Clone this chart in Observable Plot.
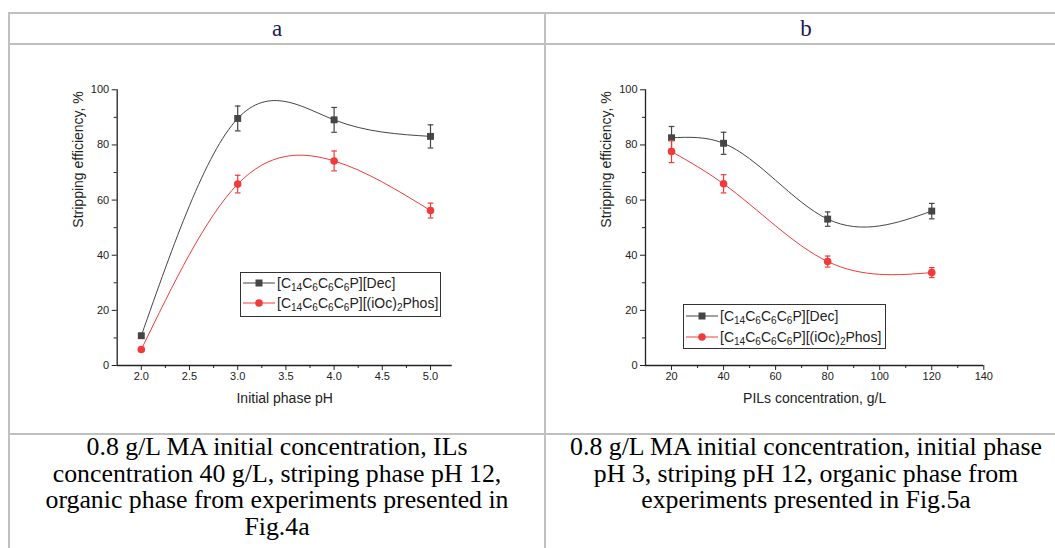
<!DOCTYPE html>
<html><head><meta charset="utf-8">
<script src="https://cdn.jsdelivr.net/npm/d3@7"></script>
<script src="https://cdn.jsdelivr.net/npm/@observablehq/plot@0.6"></script>
<style>
html,body{margin:0;padding:0;background:#fff;}
#page{position:relative;width:1055px;height:548px;overflow:hidden;background:#fff;}
.hl{position:absolute;height:2px;background:#c0c0c0;}
.vl{position:absolute;width:2px;background:#c0c0c0;}
.hdr{position:absolute;top:14px;height:29px;line-height:30px;text-align:center;font-family:"Liberation Serif",serif;font-size:23px;color:#1c1c50;}
.cap{position:absolute;top:434px;text-align:center;font-family:"Liberation Serif",serif;font-size:25.8px;line-height:26.5px;color:#000;white-space:nowrap;}
.chart{position:absolute;}
.legend{position:absolute;border:1px solid #333;background:#fff;font-family:"Liberation Sans",Arial,sans-serif;font-size:14px;color:#222;box-sizing:border-box;}
.legend .row{position:absolute;left:0;height:20px;line-height:20px;white-space:nowrap;}
.legend .row svg{position:absolute;left:2px;top:0;}
.legend .row span{position:absolute;left:36px;top:0;}
.legend sub{font-size:72%;vertical-align:-0.3em;line-height:0;}
</style></head>
<body>
<div id="page"></div>
<script>
// ---------- data ----------
const phA = [2.0, 3.0, 4.0, 5.0];
const decA = [10.8, 89.6, 89.1, 83.1];
const decAErr = [0, 4.5, 4.5, 4.2];
const phosA = [5.8, 65.8, 74.2, 56.2];
const phosAErr = [0, 3.2, 3.6, 2.7];

const concB = [20, 40, 80, 120];
const decB = [82.6, 80.6, 53.1, 56.0];
const decBErr = [4.1, 4.0, 2.6, 2.8];
const phosB = [77.6, 65.9, 37.7, 33.7];
const phosBErr = [4.0, 3.3, 2.0, 1.8];

const yTicks = [0, 20, 40, 60, 80, 100];
const yMinor = [10, 30, 50, 70, 90];
const xTicksA = [2.0, 2.5, 3.0, 3.5, 4.0, 4.5, 5.0];
const xMinorA = [2.25, 2.75, 3.25, 3.75, 4.25, 4.75];
const xTicksB = [20, 40, 60, 80, 100, 120, 140];
const xMinorB = [30, 50, 70, 90, 110, 130];

const seriesNames = [
  "[C<sub>14</sub>C<sub>6</sub>C<sub>6</sub>C<sub>6</sub>P][Dec]",
  "[C<sub>14</sub>C<sub>6</sub>C<sub>6</sub>C<sub>6</sub>P][(iOc)<sub>2</sub>Phos]"
];
const headers = ["a", "b"];
const captionA = [
  "0.8 g/L MA initial concentration, ILs",
  "concentration 40 g/L, striping phase pH 12,",
  "organic phase from experiments presented in",
  "Fig.4a"
];
const captionB = [
  "0.8 g/L MA initial concentration, initial phase",
  "pH 3, striping pH 12, organic phase from",
  "experiments presented in Fig.5a"
];
const yLabel = "Stripping efficiency, %";
const xLabels = ["Initial phase pH", "PILs concentration, g/L"];

// ---------- styles ----------
const GRAY = "#454545";
const RED = "#f23a3a";
const AX = "#222";

const page = document.getElementById("page");
function el(cls, css, html) {
  const d = document.createElement("div");
  d.className = cls;
  Object.assign(d.style, css);
  if (html != null) d.innerHTML = html;
  page.appendChild(d);
  return d;
}

// table lines
el("hl", {left: "8px", top: "12px", width: "1047px"});
el("hl", {left: "8px", top: "43px", width: "1047px"});
el("hl", {left: "8px", top: "433px", width: "1047px"});
el("vl", {left: "8px", top: "12px", height: "536px"});
el("vl", {left: "544px", top: "12px", height: "536px"});

// headers & captions
el("hdr", {left: "10px", width: "534px"}, headers[0]);
el("hdr", {left: "546px", width: "520px"}, headers[1]);
el("cap", {left: "10px", width: "534px"}, captionA.join("<br>"));
el("cap", {left: "546px", width: "520px"}, captionB.join("<br>"));

// natural cubic spline as a function of x (d3 curve interface)
function naturalX(context) {
  let xs, ys;
  return {
    areaStart() {}, areaEnd() {},
    lineStart() { xs = []; ys = []; },
    point(x, y) { xs.push(+x); ys.push(+y); },
    lineEnd() {
      const n = xs.length;
      if (!n) return;
      context.moveTo(xs[0], ys[0]);
      if (n === 2) { context.lineTo(xs[1], ys[1]); return; }
      if (n < 2) return;
      const h = [], M = new Array(n).fill(0);
      for (let i = 0; i < n - 1; i++) h[i] = xs[i + 1] - xs[i];
      const a = [], b = [], c = [], r = [];
      for (let i = 1; i < n - 1; i++) {
        a.push(h[i - 1]); b.push(2 * (h[i - 1] + h[i])); c.push(h[i]);
        r.push(6 * ((ys[i + 1] - ys[i]) / h[i] - (ys[i] - ys[i - 1]) / h[i - 1]));
      }
      const m = b.length;
      for (let i = 1; i < m; i++) { const w = a[i] / b[i - 1]; b[i] -= w * c[i - 1]; r[i] -= w * r[i - 1]; }
      const sol = new Array(m);
      sol[m - 1] = r[m - 1] / b[m - 1];
      for (let i = m - 2; i >= 0; i--) sol[i] = (r[i] - c[i] * sol[i + 1]) / b[i];
      for (let i = 0; i < m; i++) M[i + 1] = sol[i];
      for (let i = 0; i < n - 1; i++) {
        const hi = h[i], s = (ys[i + 1] - ys[i]) / hi;
        const d0 = s - hi * (2 * M[i] + M[i + 1]) / 6;
        const d1 = s + hi * (M[i] + 2 * M[i + 1]) / 6;
        context.bezierCurveTo(xs[i] + hi / 3, ys[i] + d0 * hi / 3, xs[i + 1] - hi / 3, ys[i + 1] - d1 * hi / 3, xs[i + 1], ys[i + 1]);
      }
    }
  };
}

const capSymbol = {
  draw(ctx, size) {
    const h = Math.sqrt(size / Math.PI);
    ctx.moveTo(-h, 0);
    ctx.lineTo(h, 0);
  }
};

function seriesMarks(rows, color, symbol, r) {
  const eb = rows.filter(d => d.e > 0);
  return [
    Plot.line(rows, {x: "x", y: "y", curve: naturalX, stroke: color, strokeWidth: 1}),
    Plot.ruleX(eb, {x: "x", y1: d => d.y - d.e, y2: d => d.y + d.e, stroke: color, strokeWidth: 1.2}),
    Plot.dot(eb, {x: "x", y: d => d.y + d.e, symbol: capSymbol, r: 2.8, fill: "none", stroke: color, strokeWidth: 1.2}),
    Plot.dot(eb, {x: "x", y: d => d.y - d.e, symbol: capSymbol, r: 2.8, fill: "none", stroke: color, strokeWidth: 1.2}),
    Plot.dot(rows, {x: "x", y: "y", symbol, r, fill: color, stroke: "none"})
  ];
}

function chart(o) {
  const rows1 = o.xs.map((x, i) => ({x, y: o.s1[i], e: o.e1[i]}));
  const rows2 = o.xs.map((x, i) => ({x, y: o.s2[i], e: o.e2[i]}));
  return Plot.plot({
    width: o.width,
    height: 375,
    marginLeft: o.marginLeft,
    marginRight: o.marginRight,
    marginTop: 39.3,
    marginBottom: 60,
    x: {domain: o.xDomain},
    y: {domain: [0, 100]},
    style: {fontFamily: "'Liberation Sans', Arial, sans-serif", fontSize: "11px", color: AX, background: "transparent", overflow: "visible"},
    marks: [
      Plot.axisY(yTicks, {tickSize: 5, tickPadding: 3, label: null, stroke: AX}),
      Plot.axisY(yMinor, {tickSize: 3, tickFormat: () => "", label: null, stroke: AX}),
      Plot.axisX(o.xTicks, {tickSize: 5, tickPadding: 2, tickFormat: o.fmt, label: null, stroke: AX}),
      Plot.axisX(o.xMinor, {tickSize: 3, tickFormat: () => "", label: null, stroke: AX}),
      Plot.ruleX([o.xDomain[0]], {stroke: AX, strokeWidth: 1.3}),
      Plot.ruleY([0], {stroke: AX, strokeWidth: 1.3}),
      ...seriesMarks(rows1, GRAY, "square", 3.9),
      ...seriesMarks(rows2, RED, "circle", 3.8),
      Plot.text([o.xLabel], {text: d => d, frameAnchor: "bottom", dy: 37, fontSize: 14, fill: AX}),
      Plot.text([yLabel], {text: d => d, frameAnchor: "left", rotate: -90, dx: -38.5, fontSize: 14, fill: AX})
    ]
  });
}

function place(svg, left, top) {
  const d = el("chart", {left: left + "px", top: top + "px"});
  d.appendChild(svg);
}

place(chart({
  xs: phA, s1: decA, e1: decAErr, s2: phosA, e2: phosAErr,
  xDomain: [1.75, 5.225], xTicks: xTicksA, xMinor: xMinorA, fmt: d3.format(".1f"),
  xLabel: xLabels[0], width: 470, marginLeft: 106.7, marginRight: 28.3
}), 10, 50);

place(chart({
  xs: concB, s1: decB, e1: decBErr, s2: phosB, e2: phosBErr,
  xDomain: [10, 140], xTicks: xTicksB, xMinor: xMinorB, fmt: d3.format("d"),
  xLabel: xLabels[1], width: 470, marginLeft: 95, marginRight: 36.7
}), 550, 50);

// legends
function legend(left, top, width, rowTops) {
  const box = el("legend", {left: left + "px", top: top + "px", width: width + "px", height: "45px"});
  const specs = [[GRAY, "square"], [RED, "circle"]];
  specs.forEach(([color, shape], i) => {
    const row = document.createElement("div");
    row.className = "row";
    row.style.top = rowTops[i] + "px";
    const sym = shape === "square"
      ? `<rect x="12.5" y="6.5" width="7" height="7" fill="${color}"/>`
      : `<circle cx="16" cy="10" r="3.8" fill="${color}"/>`;
    row.innerHTML = `<svg width="32" height="20"><line x1="0" x2="32" y1="10" y2="10" stroke="${color}" stroke-width="1"/>${sym}</svg><span>${seriesNames[i]}</span>`;
    box.appendChild(row);
  });
}
legend(240, 272, 201, [0, 20]);
legend(683, 304, 203, [1, 22]);
</script>
</body></html>
